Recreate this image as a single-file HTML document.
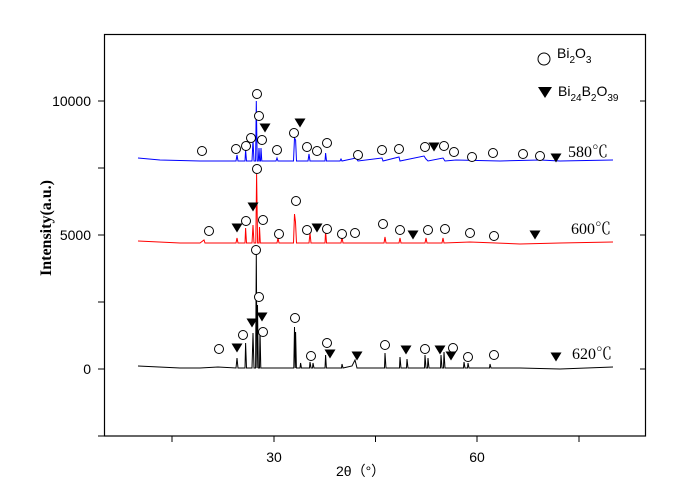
<!DOCTYPE html>
<html><head><meta charset="utf-8"><style>
body{margin:0;background:#fff}
svg{display:block}
.s{font-family:"Liberation Sans",sans-serif;font-size:14px}
.r{font-family:"Liberation Serif","Noto Serif CJK SC",serif;font-size:16px}
</style></head><body>
<svg width="693" height="492" viewBox="0 0 693 492">
<defs>
<circle id="c" r="4.5" fill="#fff" stroke="#000" stroke-width="1"/>
<path id="t" d="M-5.5,-4.5 L5.5,-4.5 L0,4.5 Z" fill="#000"/>
</defs>
<rect x="104.5" y="34.5" width="541" height="401.5" fill="none" stroke="#000" stroke-width="1.2"/>
<g stroke="#000" stroke-width="1">
<line x1="98" y1="101" x2="104" y2="101"/><line x1="98" y1="235" x2="104" y2="235"/><line x1="98" y1="369" x2="104" y2="369"/>
<line x1="98" y1="168" x2="104" y2="168"/><line x1="98" y1="302" x2="104" y2="302"/><line x1="98" y1="436" x2="104" y2="436"/>
<line x1="640" y1="101" x2="646" y2="101"/><line x1="640" y1="235" x2="646" y2="235"/><line x1="640" y1="369" x2="646" y2="369"/>
<line x1="172" y1="436" x2="172" y2="442"/><line x1="274" y1="436" x2="274" y2="442"/><line x1="375.5" y1="436" x2="375.5" y2="442"/><line x1="477" y1="436" x2="477" y2="442"/><line x1="579" y1="436" x2="579" y2="442"/>
</g>
<g class="s" text-anchor="end">
<text x="91" y="106">10000</text><text x="91" y="240">5000</text><text x="91" y="374">0</text>
</g>
<g class="s" text-anchor="middle"><text x="274" y="462">30</text><text x="477" y="462">60</text></g>
<text class="s" x="336" y="476" font-size="15">2θ（°）</text>
<text class="r" transform="translate(51,228) rotate(-90)" text-anchor="middle" font-size="17" font-weight="bold">Intensity(a.u.)</text>

<polyline fill="none" stroke="#00f" stroke-width="1" points="138,158 160,160 200,161 236,161 237,155 238,161 245,161 245.6,150 246.5,161 252,161 253,140 254,161 255.6,161 256.3,101 257.2,161 258.3,161 259,148 259.7,161 260.5,161 261,148 261.8,161 276,161 277,158 278,161 293.5,161 294.5,138 295.6,140 296.5,161 308,161 309,154 310,161 325,161 325.6,153 326.5,161 340,161 341,159 342,161 356,158 358,161 382,158 383,161 399,157 400,161 424,156 426,159 428,161 443,158 445,161 456,160 500,161 540,160 560,161 613,160"/>
<polyline fill="none" stroke="#f00" stroke-width="1" points="138,241 180,243 200,243 204,240 205,243 236,243 237,238 238,243 245,243 245.6,228 246.5,243 252,243 253,225 254,243 255.8,243 256.6,174 257.6,243 259,243 259.5,227 260.3,243 277,243 278,238 279,243 293.5,243 294.5,214 295.5,222 296.5,243 309,243 310,233 311,243 325,243 325.6,231 326.5,243 341,243 342,237 343,243 384,243 385,237 386,243 399,243 400,238 401,243 425,243 426,238 427,243 442,243 443,238 444,243 470,242 520,244 560,243 613,242"/>
<polyline fill="none" stroke="#000" stroke-width="1" points="138,366 180,368 200,368 218,367 236,368 237,358 238,368 245,368 245.6,343 246.5,368 252,368 253,333 254,368 255.6,368 256.3,253 257,368 257.5,305 258.3,368 259.5,368 260,330 260.8,368 293.8,368 294.5,327 295.2,368 295.6,332 296.4,368 300,368 300.6,363 301.4,368 309.5,368 310,362 311,368 312.5,368 313,363 314,368 325,368 325.6,355 326.4,368 341.5,368 342,364 343,368 352,366 355,360 357,368 384.5,368 385,353 386,368 399.5,368 400,357 401,368 406.5,368 407,359 408,368 424.5,368 425,355 426,368 427.5,368 428,358 429,368 440.5,368 441,355 442,368 443.5,368 444,352 445,368 463.5,368 464,362 465,368 467.5,368 468,363 469,368 489.5,368 490,364 491,368 520,368 560,369 613,367"/>

<g>
<use href="#c" x="202" y="151"/><use href="#c" x="236" y="149"/><use href="#c" x="246" y="146"/><use href="#c" x="251" y="138"/><use href="#c" x="257" y="94"/><use href="#c" x="259" y="116"/><use href="#c" x="262" y="140"/><use href="#c" x="277" y="150"/><use href="#c" x="294" y="133"/><use href="#c" x="307" y="147"/><use href="#c" x="317" y="151"/><use href="#c" x="327" y="143"/>
<use href="#c" x="358" y="155"/><use href="#c" x="382" y="150"/><use href="#c" x="399" y="149"/><use href="#c" x="425" y="147"/><use href="#c" x="444" y="146"/><use href="#c" x="454" y="152"/><use href="#c" x="472" y="157"/><use href="#c" x="493" y="153"/><use href="#c" x="523" y="154"/><use href="#c" x="540" y="156"/>
<use href="#t" x="265" y="128"/><use href="#t" x="300" y="123"/><use href="#t" x="434" y="147"/><use href="#t" x="556" y="158"/>

<use href="#c" x="209" y="231"/><use href="#c" x="246" y="221"/><use href="#c" x="257" y="169"/><use href="#c" x="263" y="220"/><use href="#c" x="279" y="234"/><use href="#c" x="296" y="201"/><use href="#c" x="307" y="230"/><use href="#c" x="327" y="229"/><use href="#c" x="342" y="234"/><use href="#c" x="355" y="233"/><use href="#c" x="383" y="224"/><use href="#c" x="400" y="230"/><use href="#c" x="428" y="230"/><use href="#c" x="445" y="229"/><use href="#c" x="470" y="233"/><use href="#c" x="494" y="236"/>
<use href="#t" x="237" y="228"/><use href="#t" x="253" y="207"/><use href="#t" x="317" y="228"/><use href="#t" x="413" y="235"/><use href="#t" x="535" y="235"/>

<use href="#c" x="219" y="349"/><use href="#c" x="243" y="335"/><use href="#c" x="256" y="250"/><use href="#c" x="259" y="297"/><use href="#c" x="263" y="332"/><use href="#c" x="295" y="318"/><use href="#c" x="311" y="356"/><use href="#c" x="327" y="343"/><use href="#c" x="385" y="345"/><use href="#c" x="425" y="349"/><use href="#c" x="453" y="348"/><use href="#c" x="468" y="357"/><use href="#c" x="494" y="355"/>
<use href="#t" x="237" y="348"/><use href="#t" x="252" y="323"/><use href="#t" x="262" y="317"/><use href="#t" x="330" y="354"/><use href="#t" x="357" y="356"/><use href="#t" x="406" y="350"/><use href="#t" x="440" y="350"/><use href="#t" x="451" y="356"/><use href="#t" x="556" y="357"/>
</g>
<g class="r"><text x="568" y="157">580℃</text><text x="571" y="234">600℃</text><text x="572" y="359">620℃</text></g>

<circle cx="544" cy="59" r="6" fill="#fff" stroke="#000" stroke-width="1"/>
<path d="M538,87 L552,87 L545,98 Z" fill="#000"/>
<text class="s" x="557" y="58" font-size="17">Bi<tspan font-size="10" dy="5">2</tspan><tspan dy="-5">O</tspan><tspan font-size="10" dy="5">3</tspan></text>
<text class="s" x="558" y="96" font-size="17">Bi<tspan font-size="10" dy="5">24</tspan><tspan dy="-5">B</tspan><tspan font-size="10" dy="5">2</tspan><tspan dy="-5">O</tspan><tspan font-size="10" dy="5">39</tspan></text>
</svg>
</body></html>
